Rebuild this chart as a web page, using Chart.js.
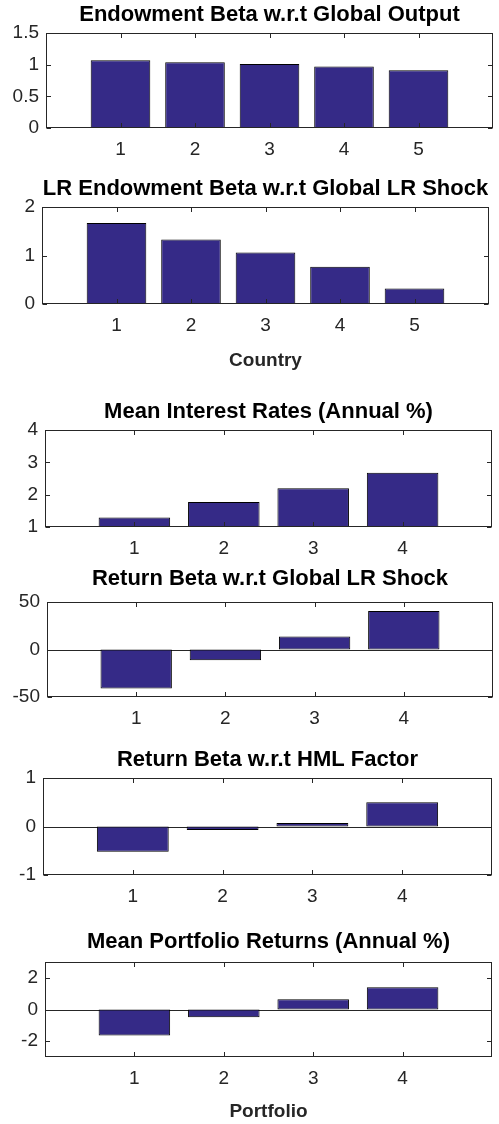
<!DOCTYPE html>
<html>
<head>
<meta charset="utf-8">
<script src="https://cdn.jsdelivr.net/npm/chart.js@4"></script>
<style>
  html, body { margin: 0; padding: 0; background: #fff; }
  body { width: 499px; height: 1124px; position: relative; overflow: hidden; }
  .panel { position: absolute; left: 0; width: 499px; }
</style>
</head>
<body>
<script>
// values
const countries = [1, 2, 3, 4, 5];
const portfolios = [1, 2, 3, 4];

const endowBeta = [1.07, 1.04, 1.01, 0.97, 0.91];
const lrEndowBeta = [1.67, 1.33, 1.06, 0.77, 0.32];
const meanRates = [1.29, 1.77, 2.20, 2.68];
const lrReturnBeta = [-41, -11.2, 13.6, 40.5];
const hmlBeta = [-0.52, -0.07, 0.07, 0.50];
const meanReturns = [-1.64, -0.49, 0.65, 1.41];

const yTicks1 = [0, 0.5, 1, 1.5];
const yTicks2 = [0, 1, 2];
const yTicks3 = [1, 2, 3, 4];
const yTicks4 = [-50, 0, 50];
const yTicks5 = [-1, 0, 1];
const yTicks6 = [-2, 0, 2];

const panels = [
    { title: 'Endowment Beta w.r.t Global Output', x: countries, y: endowBeta, xMax: 6, yMin: 0, yMax: 1.5, yTicks: yTicks1, xLabel: '' },
    { title: 'LR Endowment Beta w.r.t Global LR Shock', x: countries, y: lrEndowBeta, xMax: 6, yMin: 0, yMax: 2, yTicks: yTicks2, xLabel: 'Country' },
    { title: 'Mean Interest Rates (Annual %)', x: portfolios, y: meanRates, xMax: 5, yMin: 1, yMax: 4, yTicks: yTicks3, xLabel: '' },
    { title: 'Return Beta w.r.t Global LR Shock', x: portfolios, y: lrReturnBeta, xMax: 5, yMin: -50, yMax: 50, yTicks: yTicks4, xLabel: '' },
    { title: 'Return Beta w.r.t HML Factor', x: portfolios, y: hmlBeta, xMax: 5, yMin: -1, yMax: 1, yTicks: yTicks5, xLabel: '' },
    { title: 'Mean Portfolio Returns (Annual %)', x: portfolios, y: meanReturns, xMax: 5, yMin: -3, yMax: 3, yTicks: yTicks6, xLabel: 'Portfolio' }
];

// plot boxes in page pixels
const boxes = [
    { top: 33, bottom: 128, left: 46, right: 493, titleY: 14.5, below: 40, xLabelY: 0 },
    { top: 207, bottom: 304, left: 42, right: 489, titleY: 189, below: 76, xLabelY: 361 },
    { top: 430, bottom: 527, left: 45, right: 492, titleY: 411.5, below: 40, xLabelY: 0 },
    { top: 602, bottom: 697, left: 47, right: 493, titleY: 578.5, below: 40, xLabelY: 0 },
    { top: 778, bottom: 875, left: 43, right: 492, titleY: 760, below: 40, xLabelY: 0 },
    { top: 962, bottom: 1057, left: 45, right: 492, titleY: 942, below: 67, xLabelY: 1112 }
];

const FONT = '"Liberation Sans", Arial, Helvetica, sans-serif';
const HEAD = 36;
const TITLE_SIZE = 22;
const TICK_SIZE = 19;
const XLABEL_SIZE = 19;
const BAR_COLOR = '#352a87';
const AXIS_COLOR = '#262626';

// matlab style box, inward ticks and zero baseline
const matlabBox = {
    id: 'matlabBox',
    beforeDatasetsDraw(chart) {
        const { ctx, chartArea: a, scales: { y } } = chart;
        if (y.min >= 0) return;
        const py = Math.round(y.getPixelForValue(0)) + 0.5;
        ctx.save();
        ctx.strokeStyle = AXIS_COLOR;
        ctx.lineWidth = 1;
        ctx.beginPath();
        ctx.moveTo(a.left, py);
        ctx.lineTo(a.right, py);
        ctx.stroke();
        ctx.restore();
    },
    afterDraw(chart) {
        const { ctx, chartArea: a, scales: { x, y } } = chart;
        const L = Math.round(a.left) + 0.5;
        const R = Math.round(a.right) - 0.5;
        const T = Math.round(a.top) + 0.5;
        const B = Math.round(a.bottom) - 0.5;
        const tl = 4.5;
        ctx.save();
        ctx.strokeStyle = AXIS_COLOR;
        ctx.lineWidth = 1;
        ctx.strokeRect(L, T, R - L, B - T);
        ctx.beginPath();
        x.ticks.forEach(t => {
            const px = Math.round(x.getPixelForValue(t.value)) + 0.5;
            ctx.moveTo(px, B); ctx.lineTo(px, B - tl);
            ctx.moveTo(px, T); ctx.lineTo(px, T + tl);
        });
        y.ticks.forEach(t => {
            const py = Math.round(y.getPixelForValue(t.value)) + 0.5;
            ctx.moveTo(L, py); ctx.lineTo(L + tl, py);
            ctx.moveTo(R, py); ctx.lineTo(R - tl, py);
        });
        ctx.stroke();
        ctx.restore();
    }
};

panels.forEach((p, i) => {
    const b = boxes[i];
    const h = HEAD + (b.bottom - b.top) + b.below;
    const div = document.createElement('div');
    div.className = 'panel';
    div.style.top = (b.top - HEAD) + 'px';
    div.style.height = h + 'px';
    const canvas = document.createElement('canvas');
    div.appendChild(canvas);
    document.body.appendChild(div);

    const titleLine = TITLE_SIZE * 1.2;
    const padTop = HEAD - (b.top - b.titleY) - titleLine / 2;
    const padBottom = HEAD - titleLine - padTop;
    const canvasBottom = b.top - HEAD + h;
    const xlPad = b.xLabelY ? canvasBottom - b.xLabelY - XLABEL_SIZE * 1.2 / 2 : 0;

    new Chart(canvas.getContext('2d'), {
        type: 'bar',
        data: {
            datasets: [{
                data: p.x.map((v, k) => ({ x: v, y: p.y[k] })),
                backgroundColor: BAR_COLOR,
                borderColor: '#000',
                borderWidth: 1,
                borderSkipped: false,
                categoryPercentage: 1,
                barPercentage: 0.8
            }]
        },
        options: {
            responsive: true,
            maintainAspectRatio: false,
            animation: false,
            devicePixelRatio: 1,
            layout: { padding: { top: 0, left: 0, bottom: 0, right: 499 - b.right } },
            plugins: {
                legend: { display: false },
                tooltip: { enabled: false },
                title: {
                    display: true,
                    fullSize: false,
                    text: p.title,
                    color: '#000',
                    font: { family: FONT, size: TITLE_SIZE, weight: 'bold' },
                    padding: { top: padTop, bottom: padBottom }
                }
            },
            scales: {
                x: {
                    type: 'linear',
                    offset: false,
                    min: 0,
                    max: p.xMax,
                    grid: { display: false, drawTicks: false, offset: false },
                    border: { display: false },
                    afterBuildTicks: s => { s.ticks = p.x.map(v => ({ value: v })); },
                    afterFit: s => { s.height = b.below; },
                    ticks: {
                        padding: 10,
                        color: AXIS_COLOR,
                        maxRotation: 0,
                        font: { family: FONT, size: TICK_SIZE },
                        callback: v => String(v)
                    },
                    title: {
                        display: !!p.xLabel,
                        text: p.xLabel,
                        color: AXIS_COLOR,
                        font: { family: FONT, size: XLABEL_SIZE, weight: 'bold' },
                        padding: { top: 0, bottom: xlPad }
                    }
                },
                y: {
                    min: p.yMin,
                    max: p.yMax,
                    grid: { display: false, drawTicks: false },
                    border: { display: false },
                    afterBuildTicks: s => { s.ticks = p.yTicks.map(v => ({ value: v })); },
                    afterFit: s => { s.width = b.left; },
                    ticks: {
                        padding: 7,
                        color: AXIS_COLOR,
                        font: { family: FONT, size: TICK_SIZE },
                        callback: v => String(v)
                    }
                }
            }
        },
        plugins: [matlabBox]
    });
});
</script>
</body>
</html>
